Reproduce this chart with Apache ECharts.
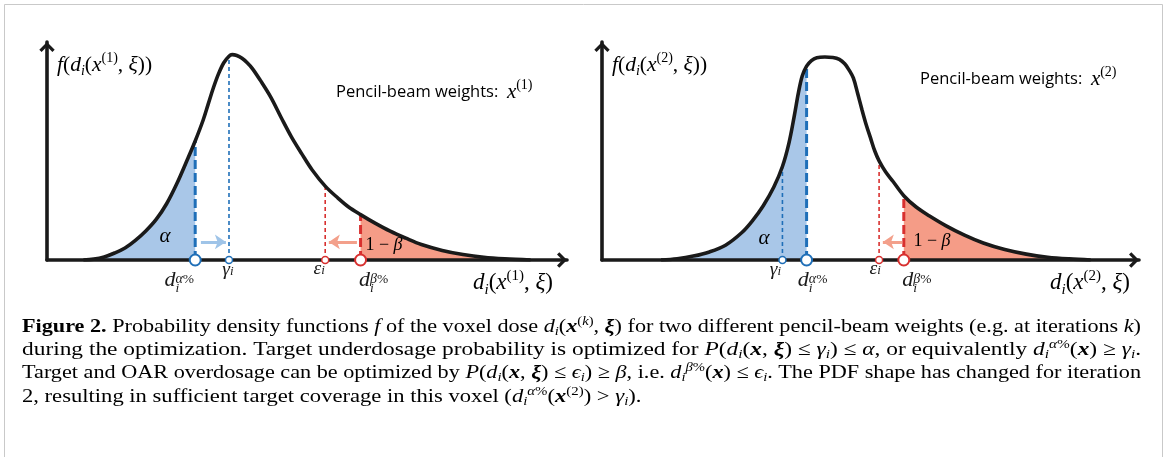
<!DOCTYPE html>
<html><head><meta charset="utf-8">
<script src="https://cdn.jsdelivr.net/npm/echarts@6/dist/echarts.min.js"></script>
<style>html,body{margin:0;padding:0;background:#fff}#c{width:1167px;height:457px}</style>
</head><body><div id="c"></div>
<script>
// ---- data (dose in arbitrary units 0..10, density 0..1) ----
const dose1 = [0.70, 0.90, 1.10, 1.30, 1.50, 1.70, 1.90, 2.10, 2.30, 2.50, 2.70, 2.85, 3.00, 3.10, 3.20, 3.30, 3.40, 3.50, 3.56, 3.65, 3.75, 3.85, 3.95, 4.10, 4.30, 4.50, 4.70, 4.90, 5.10, 5.35, 5.60, 5.80, 6.03, 6.30, 6.60, 6.90, 7.20, 7.60, 8.00, 8.40, 8.80, 9.30];
const pdf1  = [0.000, 0.004, 0.014, 0.032, 0.055, 0.090, 0.133, 0.186, 0.258, 0.352, 0.461, 0.546, 0.640, 0.715, 0.790, 0.855, 0.905, 0.935, 0.942, 0.938, 0.925, 0.905, 0.878, 0.825, 0.748, 0.655, 0.565, 0.487, 0.413, 0.339, 0.283, 0.243, 0.208, 0.170, 0.132, 0.100, 0.071, 0.044, 0.025, 0.012, 0.005, 0.000];
const dose2 = [1.10, 1.40, 1.70, 2.00, 2.30, 2.60, 2.80, 3.00, 3.20, 3.36, 3.48, 3.58, 3.66, 3.73, 3.81, 3.90, 4.00, 4.15, 4.30, 4.42, 4.52, 4.60, 4.68, 4.76, 4.84, 4.92, 5.00, 5.08, 5.16, 5.28, 5.42, 5.62, 5.85, 6.10, 6.40, 6.75, 7.10, 7.50, 7.90, 8.30, 8.70, 9.10];
const pdf2  = [0.000, 0.006, 0.018, 0.037, 0.068, 0.125, 0.180, 0.248, 0.335, 0.429, 0.535, 0.660, 0.770, 0.845, 0.889, 0.915, 0.928, 0.931, 0.929, 0.920, 0.900, 0.872, 0.835, 0.765, 0.690, 0.620, 0.560, 0.500, 0.455, 0.405, 0.360, 0.295, 0.243, 0.202, 0.158, 0.114, 0.078, 0.048, 0.027, 0.013, 0.005, 0.000];
// markers: [d_alpha%, gamma_i, eps_i, d_beta%] and the curve height at each
const markNames = ['dAlpha', 'gamma', 'eps', 'dBeta'];
const markX1 = [2.85, 3.50, 5.35, 6.03];
const markH1 = [0.546, 0.930, 0.339, 0.208];
const markX2 = [3.81, 3.36, 5.16, 5.62];
const markH2 = [0.889, 0.429, 0.455, 0.295];
// arrows [from, to] at a fixed density level
const arrowLevel = 0.083;
const arrowsBlue1 = [[2.96, 3.44]];
const arrowsRed1 = [[5.96, 5.42]];
const arrowsRed2 = [[5.59, 5.23]];

// ---- styles ----
const MF = "'Liberation Serif', 'DejaVu Serif', serif";
const SF = "'Open Sans', 'Noto Sans', sans-serif";
const INK = '#1a1a1a';
const BLUE = '#1f6fb8', BLUE_FILL = '#a9c7e8', BLUE_ARROW = '#9fc4e8';
const RED = '#d8302f', RED_FILL = '#f59c87', RED_ARROW = '#f3a08b';
const chevron = 'path://M10,0 L20,10 L17,13 L10,6 L3,13 L0,10 Z';

const pts = (xs, ys) => xs.map((x, i) => [x, ys[i]]);

const mathRich = {
  d:  {fontFamily: MF, fontStyle: 'italic', fontSize: 22, lineHeight: 15, align: 'left', color: INK},
  dg: {fontFamily: MF, fontStyle: 'italic', fontSize: 22, lineHeight: 2, align: 'left', color: 'rgba(0,0,0,0)'},
  sa: {fontFamily: MF, fontStyle: 'italic', fontSize: 14, lineHeight: 8, verticalAlign: 'top', align: 'left', color: INK},
  sp: {fontFamily: MF, fontSize: 13.5, lineHeight: 8, verticalAlign: 'top', align: 'left', color: INK},
  si: {fontFamily: MF, fontStyle: 'italic', fontSize: 13.5, lineHeight: 2, align: 'left', color: INK},
  g:  {fontFamily: MF, fontStyle: 'italic', fontSize: 19.5, lineHeight: 16, align: 'left', color: INK},
  gi: {fontFamily: MF, fontStyle: 'italic', fontSize: 13, lineHeight: 8, verticalAlign: 'bottom', align: 'left', color: INK}
};
const markLabelText = {
  dAlpha: '{d|d}{sa|α}{sp|%}\n{dg|d}{si|i}',
  dBeta:  '{d|d}{sa|β}{sp|%}\n{dg|d}{si|i}',
  gamma:  '{g|γ}{gi|i}',
  eps:    '{g|ε}{gi|i}'
};
const labelOffsets = [
  {dAlpha: [-16, 21], gamma: [-1, 10], eps: [-6, 9], dBeta: [13, 21]},
  {dAlpha: [6, 21], gamma: [-7, 10], eps: [-4, 9], dBeta: [13, 21]}
];

function panelSeries(gi, xs, ys, mx, mh, blueArrows, redArrows) {
  const all = pts(xs, ys);
  const dA = mx[0], dB = mx[3];
  const sm = 0.35;
  const series = [];
  series.push({type: 'line', xAxisIndex: gi, yAxisIndex: gi, data: all.filter(p => p[0] <= dA + 1e-9),
    smooth: sm, showSymbol: false, lineStyle: {width: 0}, areaStyle: {color: BLUE_FILL, opacity: 1}, z: 1, silent: true});
  series.push({type: 'line', xAxisIndex: gi, yAxisIndex: gi, data: all.filter(p => p[0] >= dB - 1e-9),
    smooth: sm, showSymbol: false, lineStyle: {width: 0}, areaStyle: {color: RED_FILL, opacity: 1}, z: 1, silent: true});
  const dashStyle = [
    {color: BLUE, width: 3, type: [9, 4]},
    {color: BLUE, width: 1.6, type: [4, 3]},
    {color: RED, width: 1.6, type: [4, 3]},
    {color: RED, width: 3, type: [9, 4]}
  ];
  mx.forEach((x, i) => {
    series.push({type: 'line', xAxisIndex: gi, yAxisIndex: gi, data: [[x, 0], [x, mh[i]]],
      showSymbol: false, lineStyle: dashStyle[i], z: 2, silent: true});
  });
  series.push({type: 'line', xAxisIndex: gi, yAxisIndex: gi, data: all, smooth: sm, showSymbol: false,
    lineStyle: {color: INK, width: 3.6}, z: 3, silent: true});
  const arrowSeries = (arr, color) => ({
    type: 'lines', coordinateSystem: 'cartesian2d', xAxisIndex: gi, yAxisIndex: gi,
    data: arr.map(a => ({coords: [[a[0], arrowLevel], [a[1], arrowLevel]]})),
    symbol: ['none', 'arrow'], symbolSize: 11, lineStyle: {color: color, width: 3, opacity: 1}, z: 4, silent: true
  });
  if (blueArrows.length) series.push(arrowSeries(blueArrows, BLUE_ARROW));
  if (redArrows.length) series.push(arrowSeries(redArrows, RED_ARROW));
  const big = [true, false, false, true];
  const col = [BLUE, BLUE, RED, RED];
  series.push({type: 'scatter', xAxisIndex: gi, yAxisIndex: gi, z: 6, silent: true,
    data: mx.map((x, i) => ({
      value: [x, 0], symbolSize: big[i] ? 11 : 7,
      itemStyle: {color: '#fff', borderColor: col[i], borderWidth: big[i] ? 2 : 1.5, opacity: 1},
      label: {show: true, position: 'inside', align: 'center', verticalAlign: 'middle',
        offset: labelOffsets[gi][markNames[i]], formatter: markLabelText[markNames[i]], rich: mathRich}
    }))});
  return series;
}

function axisPair(gi) {
  const line = {show: true, onZero: false, symbol: ['none', chevron], symbolSize: [16, 10], symbolOffset: [0, -5],
    lineStyle: {color: INK, width: 3.6}};
  return {
    x: {type: 'value', gridIndex: gi, min: 0, max: 10, axisLine: line, axisTick: {show: false},
      axisLabel: {show: false}, splitLine: {show: false}, z: 5},
    y: {type: 'value', gridIndex: gi, min: 0, max: 1, axisLine: line, axisTick: {show: false},
      axisLabel: {show: false}, splitLine: {show: false}, z: 5}
  };
}
const a0 = axisPair(0), a1 = axisPair(1);

// ---- text (math via rich text) ----
const tRich = (fs, color) => ({
  fi: {fontFamily: MF, fontStyle: 'italic', fontSize: fs, color: color || INK, lineHeight: fs + 6},
  n:  {fontFamily: MF, fontSize: fs, color: color || INK, lineHeight: fs + 6},
  s:  {fontFamily: SF, fontSize: 16.5, color: '#2a2a2a', lineHeight: fs + 6},
  sub: {fontFamily: MF, fontStyle: 'italic', fontSize: Math.round(fs * 0.65), color: color || INK, verticalAlign: 'bottom', lineHeight: Math.round(fs * 0.65) + 2},
  sup: {fontFamily: MF, fontSize: Math.round(fs * 0.65), color: color || INK, verticalAlign: 'top', lineHeight: Math.round(fs * 0.65) + 2}
});
function rt(x, y, text, fs, align, color) {
  return {type: 'text', x: x, y: y, z: 10, silent: true,
    style: {text: text, rich: tRich(fs, color), align: align || 'left', verticalAlign: 'middle'}};
}

const CFS = 19;
const capRich = {
  b:  {fontFamily: MF, fontWeight: 'bold', fontSize: CFS, lineHeight: 23, color: '#111'},
  n:  {fontFamily: MF, fontSize: CFS, lineHeight: 23, color: '#111'},
  it: {fontFamily: MF, fontStyle: 'italic', fontSize: CFS, lineHeight: 23, color: '#111'},
  bi: {fontFamily: MF, fontStyle: 'italic', fontWeight: 'bold', fontSize: CFS, lineHeight: 23, color: '#111'},
  sub: {fontFamily: MF, fontStyle: 'italic', fontSize: 12.5, lineHeight: 13, verticalAlign: 'bottom', color: '#111'},
  sup: {fontFamily: MF, fontSize: 12.5, lineHeight: 12, verticalAlign: 'top', color: '#111'},
  supi: {fontFamily: MF, fontStyle: 'italic', fontSize: 12.5, lineHeight: 12, verticalAlign: 'top', color: '#111'}
};
const captionLines = [
  '{b|Figure 2.}{n| Probability density functions }{it|f}{n| of the voxel dose }{it|d}{sub|i}{n|(}{bi|x}{sup|(}{supi|k}{sup|)}{n|, }{bi|ξ}{n|) for two different pencil-beam weights (e.g. at iterations }{it|k}{n|)}',
  '{n|during the optimization. Target underdosage probability is optimized for }{it|P}{n|(}{it|d}{sub|i}{n|(}{bi|x}{n|, }{bi|ξ}{n|) ≤ }{it|γ}{sub|i}{n|) ≤ }{it|α}{n|, or equivalently }{it|d}{sub|i}{supi|α}{sup|%}{n|(}{bi|x}{n|) ≥ }{it|γ}{sub|i}{n|.}',
  '{n|Target and OAR overdosage can be optimized by }{it|P}{n|(}{it|d}{sub|i}{n|(}{bi|x}{n|, }{bi|ξ}{n|) ≤ }{it|ϵ}{sub|i}{n|) ≥ }{it|β}{n|, i.e. }{it|d}{sub|i}{supi|β}{sup|%}{n|(}{bi|x}{n|) ≤ }{it|ϵ}{sub|i}{n|. The PDF shape has changed for iteration}',
  '{n|2, resulting in sufficient target coverage in this voxel (}{it|d}{sub|i}{supi|α}{sup|%}{n|(}{bi|x}{sup|(2)}{n|) > }{it|γ}{sub|i}{n|).}'
];
const captionTop = [327, 350, 373, 397];
const captionLeft = 22, captionRight = 1141;
// justify lines 1-3 to the caption width; last line uses their mean stretch
const capWidths = captionLines.map(t => new echarts.graphic.Text({style: {text: t, rich: capRich}}).getBoundingRect().width);
const capScale = capWidths.map(w => (captionRight - captionLeft) / w);
capScale[3] = (capScale[0] + capScale[1] + capScale[2]) / 3;

const graphics = [
  {type: 'rect', shape: {x: 4.5, y: 4.5, width: 1158, height: 480}, style: {fill: 'none', stroke: '#c9c9c9', lineWidth: 1}, silent: true, z: 0},
  rt(57, 65, '{fi|f}{n|(}{fi|d}{sub|i}{n|(}{fi|x}{sup|(1)}{n|, }{fi|ξ}{n|))}', 21.5),
  rt(612, 65, '{fi|f}{n|(}{fi|d}{sub|i}{n|(}{fi|x}{sup|(2)}{n|, }{fi|ξ}{n|))}', 21.5),
  rt(553, 283, '{fi|d}{sub|i}{n|(}{fi|x}{sup|(1)}{n|, }{fi|ξ}{n|)}', 23, 'right'),
  rt(1130, 283, '{fi|d}{sub|i}{n|(}{fi|x}{sup|(2)}{n|, }{fi|ξ}{n|)}', 23, 'right'),
  rt(336, 92, '{s|Pencil-beam weights:  }{fi|x}{sup|(1)}', 21),
  rt(920, 79, '{s|Pencil-beam weights:  }{fi|x}{sup|(2)}', 21),
  rt(165, 236, '{fi|α}', 21, 'center', '#2b78c2'),
  rt(764, 238, '{fi|α}', 21, 'center', '#2b78c2'),
  rt(384, 245, '{n|1 − }{fi|β}', 18, 'center', '#d9463f'),
  rt(932, 241, '{n|1 − }{fi|β}', 18, 'center', '#d9463f')
].concat(captionLines.map((t, i) => ({type: 'text', x: captionLeft, y: captionTop[i], scaleX: capScale[i], z: 10, silent: true,
  style: {text: t, rich: capRich, align: 'left', verticalAlign: 'middle'}})));

const chart = echarts.init(document.getElementById('c'), null, {renderer: 'canvas'});
chart.setOption({
  animation: false,
  backgroundColor: '#fff',
  grid: [
    {left: 47, top: 42, width: 520, height: 218},
    {left: 602, top: 42, width: 537, height: 218}
  ],
  xAxis: [a0.x, a1.x],
  yAxis: [a0.y, a1.y],
  series: panelSeries(0, dose1, pdf1, markX1, markH1, arrowsBlue1, arrowsRed1)
    .concat(panelSeries(1, dose2, pdf2, markX2, markH2, [], arrowsRed2)),
  graphic: graphics
});
</script></body></html>
